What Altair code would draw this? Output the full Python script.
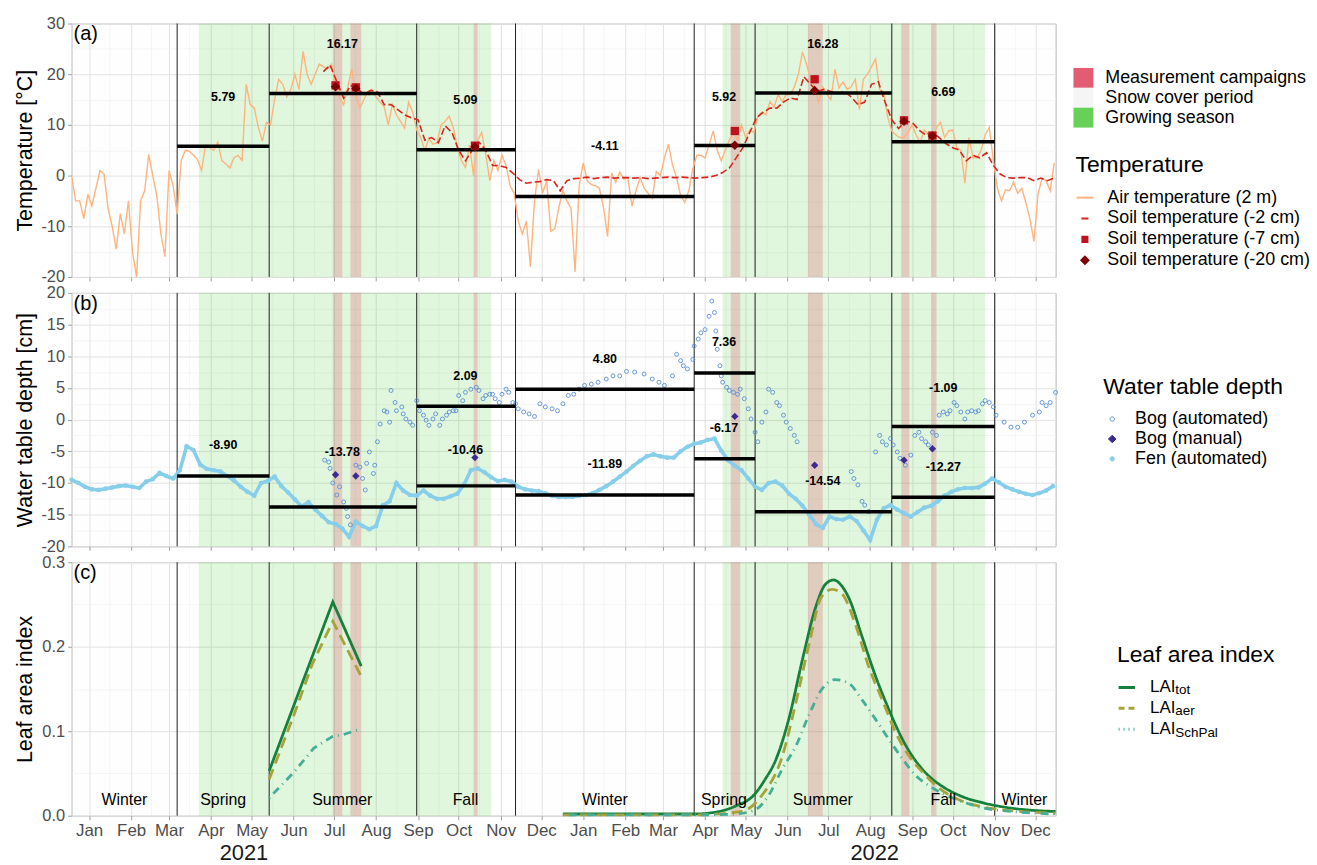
import datetime as dt
import altair as alt
import pandas as pd

FONT = "Liberation Sans"
T0 = dt.date(2021, 1, 1)

# ---------------------------------------------------------------- periods
x_start, x_end = "2020-12-19", "2022-12-16"
season_edges = ["2020-12-19", "2021-03-07", "2021-05-14", "2021-08-31", "2021-11-12",
                "2022-03-24", "2022-05-08", "2022-08-17", "2022-11-01", "2022-12-16"]
season_names = ["Winter", "Spring", "Summer", "Fall", "Winter",
                "Spring", "Summer", "Fall", "Winter"]
growing_start = ["2021-03-23", "2022-04-14"]
growing_end = ["2021-10-25", "2022-10-25"]
campaign_start = ["2021-06-30", "2021-07-13", "2021-10-12", "2022-04-20",
                  "2022-06-16", "2022-08-24", "2022-09-15"]
campaign_end = ["2021-07-07", "2021-07-21", "2021-10-15", "2022-04-27",
                "2022-06-27", "2022-08-30", "2022-09-19"]
snow_start = ["2020-12-19", "2021-11-12", "2022-11-01"]
snow_end = ["2021-03-07", "2022-03-24", "2022-12-16"]
campaign_days = ["2021-07-02", "2021-07-17", "2021-10-13", "2022-04-23",
                 "2022-06-21", "2022-08-26", "2022-09-16"]

# ---------------------------------------------------------------- temperature
air_start, air_step = "2020-12-19", 3
air_temp = [
    0, -5, -5, -8.5, -3.7, -6, -2.5, 1, 0.3, -6.5,
    -10, -14.5, -7.5, -11.5, -5, -15, -20, -5, -3, 4.2,
    0, -4, -11.5, -16, 1, -2, -7.6, 3, 5, 4.8,
    4, 3.2, 1, 6, 5.5, 5, 6.6, 3, 2.3, 1.5,
    3.5, 4, 3, 18, 14, 13.3, 9.5, 6.8, 10.5, 10,
    15, 19, 18, 15.5, 17, 20, 17, 24.5, 20, 18,
    20, 22, 21.5, 21, 22, 18, 15.3, 14, 17.5, 21,
    16, 13.3, 15, 16.6, 17, 15.5, 14.5, 13.5, 10, 14,
    12, 10.7,
    9.4, 14.5, 12.5, 9, 7.5, 5, 7.3, 6.2, 6.5, 10,
    10.7, 11.7, 9.5, 5.5, 3, 1.6, 6, 0, 7, 8.5,
    4.2, -1, 3, 1, 4, 2, -2, -3.5, -9, -11.5,
    -9, -18, -5, 1.2, -3.5, -1, -11, -10.5, -6.3, -3,
    -5, -6.5, -19, -2, 2.5, -1, -1.8, -2, -2.5, -6.3,
    -12, 0.5, -1.3, 0.7, -0.7, -0.5, -6, -3, -0.4, -2.5,
    -3.5, -4.5, 0.8, 0, 3.5, 6.2, 2, -0.4, -4, -5.3,
    -3, 1.4, 4, 4, 3.5, 6, 8.8, 5, 2.9, 5,
    7, 8.5, 7, 10, 7.5, 9, 8.5, 11.7, 12.5, 12,
    14.6, 13.5, 16, 14.6, 16, 16, 17.5, 20, 24.4, 22,
    19, 17.5, 14.5, 17.5, 16, 15, 21, 17.3, 18.5, 17,
    17.5, 19, 13, 19, 20, 21.5, 23, 17, 16.5, 11.5,
    8.8, 8, 7.5, 7.5, 8.5, 10, 8, 6.5, 9, 8.2,
    7, 9.5, 10.5, 7.5, 8.8, 9, 5.5, 5, -1.5, 7.5,
    3.5, 3.5, 5, 8, 9.5, 3, -2.5, -5, -2.8, -3,
    -1.3, -3.5, -2.5, -5.3, -8.5, -13, -3.7, -0.5, -1, -3,
    2.5,
]
soil2_start, soil2_step = "2021-06-23", 5
soil2_temp = [
    20.5, 21.8, 18.5, 15.3, 17.8, 17.2, 16, 16.8, 16.5, 14, 14, 13,
    12, 11.4, 11, 7, 7.5, 6.5, 9.8, 8.5, 5, 2.9, 5, 6.6, 5, 2, 2, 1.6,
    0.5, -0.8, -1.5, -1.3, -1.2, -0.8, -1, -3, -1, -0.6,
    -0.5, -0.3, -0.6, -0.4, -0.3, -0.5, -0.4, -0.4, -0.5, -0.4, -0.6, -0.5,
    -0.4, -0.3, -0.4, -0.3, -0.4, -0.5, -0.4, -0.3, 0, 0.6,
    1.5, 3.5, 5.5, 8.5, 11.4, 12.5, 13.3, 13.3, 14.5, 15.3,
    15, 19.5, 18, 16.6, 17, 16.6, 16.2, 16.6, 15.5, 14,
    14.5, 18, 18.5, 14.5, 11, 9.3, 10.7, 10.5, 9, 8,
    8.5, 7.5, 6.3, 5.5, 5, 2.9, 4, 3.5, 4.5, 2,
    0.3, -0.4, -0.5, -0.4, -0.4, -1, -0.5, -1, -0.5,
]
soil7_temp = [17.8, 17.4, 5.9, 8.8, 19.0, 10.9, 7.9]
soil20_temp = [17.5, 17.2, 5.7, 6.0, 16.8, 10.7, 7.8]
temp_mean = [5.79, 16.17, 5.09, -4.11, 5.92, 16.28, 6.69]
temp_label_y = [15.5, 25.9, 14.9, 5.8, 15.5, 26.0, 16.5]

# ---------------------------------------------------------------- water table
fen_start, fen_step = "2020-12-19", 5
fen_wtd = [
    -9.5, -10, -10.6, -11, -11.1, -10.9, -10.7, -10.5, -10.4, -10.6,
    -10.8, -9.8, -9.4, -8.4, -8.9, -9.3, -8, -4.2, -4.8, -7.1,
    -7.8, -8, -8.2, -8.9, -9.6, -10.6, -11.4, -12, -10, -9.7,
    -9, -10.5, -11.5, -12.6, -13.7, -13, -14.2, -15.2, -16.2, -16.5,
    -17.2, -18.5, -16.1, -16.8, -17.3, -16.8, -13.5, -12.9, -10, -11.2,
    -11.9, -12, -11.2, -12, -12.5, -12.5, -12.1, -11.7, -10.2, -8,
    -7.7, -8.3, -9.1, -9.7, -9.5, -9.8,
    -10.6, -11, -11.2, -11.3, -11.6, -12, -12.2, -12.2, -12.2, -12,
    -11.9, -11.6, -11.1, -10.5, -9.8, -9, -8.2, -7.3, -6.5, -5.8,
    -5.5, -5.8, -6, -6, -5, -4.3, -3.8, -3.6, -3.2, -3,
    -4.9, -6.4, -7.3, -8, -9.3, -10.6, -11.1, -10, -9.8, -10.4,
    -11.7, -12.5, -13.6, -15, -16.5, -17.1, -15.3, -15.7, -15.8, -15.3,
    -16, -17.5, -19, -15.8, -14, -13.5, -14.2, -14.8, -15.3, -14.6,
    -13.9, -13.6, -12.9, -12, -11.4, -11, -10.8, -10.8, -10.7, -10.1,
    -9.3, -9.9, -10.6, -11, -11.4, -11.7, -11.9, -11.6, -11.2, -10.5,
]
# bog logger: days since 2021-01-01 and water table depth
bog_auto_day = [
    174, 177, 178, 180, 183, 185, 188, 190, 191, 193, 197, 200, 202, 204, 205, 207, 210, 211, 213, 215,
    218, 220, 222, 223, 226, 227, 231, 232, 234, 237, 239, 242, 244, 247, 249, 251, 254, 256, 259, 261,
    264, 266, 269, 271, 273, 276, 278, 282, 286, 288, 291, 293, 296, 298, 300, 303, 305, 308, 310, 313,
    315,
    317, 321, 325, 329, 333, 337, 342, 346, 350, 354, 358, 362, 366, 371, 376, 382, 387, 392, 397, 403,
    410, 416, 421, 425, 431, 434, 437, 439, 442, 446, 447, 450, 452, 455, 458, 460, 462, 463, 464, 466,
    467, 468, 471, 473, 476, 479, 481, 484, 487, 489, 492, 494, 497, 500, 502, 505, 508, 510, 513, 515,
    518, 521, 523,
    563, 565, 568, 571, 573, 576, 581, 584, 586, 589, 592, 594, 597, 599, 603, 607, 610, 613, 615, 618,
    620, 623, 626, 628, 631, 634, 636, 639, 641, 644, 647, 649, 652, 655, 657, 660, 662, 665, 668, 670,
    676, 681, 686, 691, 697, 702, 704, 707, 710, 714,
]
bog_auto_wtd = [
    -6.4, -6.7, -7.7, -10, -11.9, -10.6, -13, -14, -15.3, -16.6, -7.2, -7.5, -9.3, -11.1, -6.9, -5.1, -8.5, -7.2, -3.5, -0.7,
    1.4, 1.2, -0.4, 4.6, 2.7, 1.4, 2, 0.9, 0.1, -0.4, -0.9, 3, 1.4, 0.7, -0.1, -0.9, 0.1, 0.9, -0.9, 0.1,
    0.7, 1.2, 1.4, 1.4, 3.8, 3, 4.3, 4.8, 5.1, 4.6, 3.3, 3.8, 4, 4, 3.3, 2.7, 4, 4.8, 4.3, 2.7,
    2.5,
    1.7, 1.2, 0.9, 0.5, 2.5, 2, 1.7, 1.4, 2.5, 3.8, 4, 4.8, 5.4, 5.6, 5.9, 6.4, 6.9, 6.9, 7.6, 7.5,
    7.2, 6.4, 5.9, 5.4, 6.9, 10.3, 9.3, 8.5, 8, 9.5, 11.6, 12.7, 13.7, 14.2, 16.3, 18.7, 16.9, 14, 11.1, 8.5,
    6.9, 5.9, 5.1, 4.6, 4.3, 4, 4.8, 3.3, 1.7, 0.1, -2, -3.5, -0.4, 1.2, 4.8, 4.3, 2.7, 2.2, 0.7, -0.4,
    -1.4, -2.5, -3.5,
    -8.2, -9.3, -10.3, -12.9, -13.5, -14.5, -5.1, -2.5, -3.5, -4, -3, -4, -5.1, -6.1, -7.2, -5.6, -2.5, -2, -3, -3.5,
    -4, -2, -2.5, 0.7, 1.2, 0.9, 1.4, 2.7, 2.2, 1.2, 0.1, 1.2, 1.4, 1.2, 1.4, 2.5, 3, 2.7, 2, 0.7,
    -0.4, -1.2, -1.2, -0.4, 0.7, 1.2, 2.7, 2.2, 2.7, 4.3,
]
bog_manual_wtd = [-8.7, -8.9, -6.0, 0.5, -7.2, -6.4, -4.6]
fen_mean = [-8.90, -13.78, -10.46, -11.89, -6.17, -14.54, -12.27]
fen_label_y = [-4.06, -5.05, -4.74, -7.08, -1.28, -9.65, -7.5]
bog_mean = [None, None, 2.09, 4.80, 7.36, None, -1.09]
bog_label_y = [None, None, 6.87, 9.54, 12.26, None, 4.94]

# ---------------------------------------------------------------- leaf area index
lai_tot_2021_date = ["2021-05-14", "2021-06-30", "2021-07-21"]
lai_tot_2021 = [0.053, 0.253, 0.177]
lai_aer_2021_date = ["2021-05-14", "2021-06-01", "2021-06-15", "2021-06-30", "2021-07-21"]
lai_aer_2021 = [0.043, 0.118, 0.18, 0.23, 0.165]
lai_sch_2021_date = ["2021-05-14", "2021-06-01", "2021-06-16", "2021-06-30", "2021-07-08", "2021-07-21"]
lai_sch_2021 = [0.021, 0.051, 0.08, 0.094, 0.096, 0.103]

lai_tot_2022_date = ["2021-12-17", "2022-03-24", "2022-04-08", "2022-04-23", "2022-05-08", "2022-05-15",
                     "2022-05-23", "2022-06-02", "2022-06-12", "2022-06-22", "2022-06-29", "2022-07-05",
                     "2022-07-11", "2022-07-17", "2022-07-26", "2022-08-05", "2022-08-15", "2022-08-25",
                     "2022-09-04", "2022-09-14", "2022-09-24", "2022-10-09", "2022-10-24", "2022-11-13",
                     "2022-12-02", "2022-12-16"]
lai_tot_2022 = [0.002, 0.002, 0.004, 0.011, 0.026, 0.042, 0.065, 0.115, 0.185, 0.248, 0.274, 0.279,
                0.272, 0.255, 0.212, 0.165, 0.125, 0.09, 0.064, 0.046, 0.034, 0.022, 0.015, 0.009,
                0.006, 0.005]
lai_aer_2022_date = ["2021-12-17", "2022-03-24", "2022-04-28", "2022-05-13", "2022-05-28", "2022-06-07",
                     "2022-06-17", "2022-06-26", "2022-07-04", "2022-07-11", "2022-07-21", "2022-07-31",
                     "2022-08-10", "2022-08-20", "2022-08-30", "2022-09-09", "2022-09-19", "2022-10-04",
                     "2022-10-24", "2022-11-13", "2022-12-16"]
lai_aer_2022 = [0.001, 0.001, 0.005, 0.024, 0.07, 0.133, 0.204, 0.259, 0.268, 0.263, 0.227, 0.176,
                0.137, 0.098, 0.07, 0.051, 0.035, 0.02, 0.01, 0.006, 0.003]
lai_sch_2022_date = ["2021-12-17", "2022-03-24", "2022-04-23", "2022-05-08", "2022-05-18", "2022-05-28",
                     "2022-06-07", "2022-06-17", "2022-06-26", "2022-07-06", "2022-07-16", "2022-07-26",
                     "2022-08-05", "2022-08-15", "2022-08-25", "2022-09-04", "2022-09-14", "2022-09-24",
                     "2022-10-09", "2022-10-24", "2022-11-13", "2022-12-16"]
lai_sch_2022 = [0.001, 0.001, 0.002, 0.007, 0.024, 0.055, 0.082, 0.12, 0.149, 0.161, 0.157, 0.137,
                0.114, 0.09, 0.067, 0.047, 0.035, 0.026, 0.016, 0.009, 0.005, 0.002]
season_label_lai = 0.018

# ---------------------------------------------------------------- styling
AIR, SOIL2, SOIL7, SOIL20 = "#FDB47E", "#D7261E", "#C0111F", "#7F0000"
FEN, BOGA, BOGM = "#87CEEB", "#5B8ED4", "#3D2A8E"
TOT, AER, SCH = "#17803A", "#A8A23A", "#45AE98"
GREEN, CAMP, SNOW = "#66D157", "#E35D72", "#F5F5F5"
W, H = 990, 255
TICK_FONT = 16.5


def parse(s):
    return dt.date.fromisoformat(s)


def regular_dates(start, step, n):
    s = parse(start)
    return [(s + dt.timedelta(days=step * i)).isoformat() for i in range(n)]


def offset_dates(days):
    return [(T0 + dt.timedelta(days=d)).isoformat() for d in days]


def midpoint(a, b):
    da, db = parse(a), parse(b)
    return (da + (db - da) / 2).isoformat()


def dtime(s):
    d = parse(s)
    return alt.DateTime(year=d.year, month=d.month, date=d.day, utc=True)


def cond(test, a, b):
    return {"condition": {"test": test, "value": a}, "value": b}


XS = alt.Scale(type="utc", domain=[dtime(x_start), dtime(x_end)])
YA = alt.Scale(domain=[-20, 30], nice=False, zero=False)
YB = alt.Scale(domain=[-20, 20], nice=False, zero=False)
YC = alt.Scale(domain=[0, 0.3], nice=False, zero=False)

MONTH_TEST = "utcdate(datum.value) == 1"
month_major = [alt.DateTime(year=y, month=m, date=1, utc=True) for y in (2021, 2022) for m in range(1, 13)]
month_minor = [alt.DateTime(year=y, month=m, date=16, utc=True)
               for y in (2021, 2022) for m in range(1, 13) if not (y == 2022 and m == 12)]


def x_axis(show_labels):
    return alt.Axis(
        values=month_major + month_minor, labels=show_labels,
        labelExpr=f"{MONTH_TEST} ? utcFormat(datum.value, '%b') : ''",
        tickOpacity=cond(MONTH_TEST, 1, 0),
        gridColor=cond(MONTH_TEST, "#E0E0E0", "#EEEEEE"),
        gridWidth=cond(MONTH_TEST, 1, 0.6),
        title=None, labelFontSize=17, labelColor="#4D4D4D", labelPadding=3,
        labelOverlap=False, labelFlush=False, orient="bottom")


def y_axis(values, test, label_expr, title):
    return alt.Axis(
        values=values, labelExpr=f"{test} ? {label_expr} : ''",
        tickOpacity=cond(test, 1, 0),
        gridColor=cond(test, "#E0E0E0", "#EEEEEE"),
        gridWidth=cond(test, 1, 0.6),
        title=title, titleX=-46, titleY=H / 2, titleBaseline="middle",
        titleFontSize=21.5, titleFontWeight="normal", titleColor="black",
        labelFontSize=TICK_FONT, labelColor="#4D4D4D", labelPadding=3, labelOverlap=False)


XA_TOP = x_axis(False)
XA_BOTTOM = x_axis(True)
YAX_A = y_axis(list(range(-20, 31, 5)), "datum.value % 10 == 0", "toString(datum.value)",
               "Temperature [°C]")
YAX_B = y_axis([v / 2 for v in range(-40, 41, 5)], "datum.value % 5 == 0", "toString(datum.value)",
               "Water table depth [cm]")
YAX_C = y_axis([0, 0.05, 0.1, 0.15, 0.2, 0.25, 0.3],
               "abs(datum.value * 10 - round(datum.value * 10)) < 0.001",
               "format(datum.value, '.1f')", "Leaf area index")


def xe(field, axis):
    return alt.X(f"{field}:T", scale=XS, axis=axis)


def ye(field, scale, axis):
    return alt.Y(f"{field}:Q", scale=scale, axis=axis)


# ---------------------------------------------------------------- shared tables
snow_df = pd.DataFrame({"start": snow_start, "end": snow_end})
grow_df = pd.DataFrame({"start": growing_start, "end": growing_end})
camp_df = pd.DataFrame({"start": campaign_start, "end": campaign_end})
edge_df = pd.DataFrame({"date": season_edges[1:-1]})
inner = range(1, len(season_names) - 1)
season_start = [season_edges[i] for i in inner]
season_end = [season_edges[i + 1] for i in inner]
season_mid = [midpoint(a, b) for a, b in zip(season_start, season_end)]


def background_layers(xa):
    snow = alt.Chart(snow_df).mark_rect(fill=SNOW, opacity=0.15).encode(x=xe("start", xa), x2="end:T")
    grow = alt.Chart(grow_df).mark_rect(fill=GREEN, opacity=0.2).encode(x=xe("start", xa), x2="end:T")
    camp = alt.Chart(camp_df).mark_rect(fill=CAMP, opacity=0.28).encode(x=xe("start", xa), x2="end:T")
    edges = alt.Chart(edge_df).mark_rule(color="#1F1F1F", strokeWidth=1).encode(x=xe("date", xa))
    return [snow, grow, camp, edges]


def tag_layer(txt):
    return alt.Chart(pd.DataFrame({"tag": [txt]})).mark_text(
        align="left", baseline="middle", fontSize=20, font=FONT, color="black"
    ).encode(x=alt.value(2), y=alt.value(11), text="tag:N")


def mean_layers(means, label_y, scale, xa, ya):
    rows = [(s, e, m, mean, ly, f"{mean:.2f}") for s, e, m, mean, ly in
            zip(season_start, season_end, season_mid, means, label_y) if mean is not None]
    df = pd.DataFrame(rows, columns=["start", "end", "mid", "mean", "ly", "txt"])
    rule = alt.Chart(df).mark_rule(color="black", strokeWidth=3.5).encode(
        x=xe("start", xa), x2="end:T", y=ye("mean", scale, ya))
    text = alt.Chart(df).mark_text(fontWeight="bold", fontSize=12.5, font=FONT, color="black").encode(
        x=xe("mid", xa), y=ye("ly", scale, ya), text="txt:N")
    return rule, text


# ---------------------------------------------------------------- panel (a)
air_df = pd.DataFrame({"date": regular_dates(air_start, air_step, len(air_temp)), "t": air_temp})
soil2_df = pd.DataFrame({"date": regular_dates(soil2_start, soil2_step, len(soil2_temp)), "t": soil2_temp})
pts_df = pd.DataFrame({"date": campaign_days, "t7": soil7_temp, "t20": soil20_temp})

air = alt.Chart(air_df).mark_line(color=AIR, strokeWidth=1.4, clip=True).encode(
    x=xe("date", XA_TOP), y=ye("t", YA, YAX_A))
soil2 = alt.Chart(soil2_df).mark_line(color=SOIL2, strokeWidth=1.6, strokeDash=[7, 3], clip=True).encode(
    x=xe("date", XA_TOP), y=ye("t", YA, YAX_A))
t_rule, t_text = mean_layers(temp_mean, temp_label_y, YA, XA_TOP, YAX_A)
soil7 = alt.Chart(pts_df).mark_point(shape="square", filled=True, size=70, color=SOIL7, opacity=1).encode(
    x=xe("date", XA_TOP), y=ye("t7", YA, YAX_A))
soil20 = alt.Chart(pts_df).mark_point(shape="diamond", filled=True, size=90, color=SOIL20, opacity=1).encode(
    x=xe("date", XA_TOP), y=ye("t20", YA, YAX_A))

bg_keys = ["Measurement campaigns", "Snow cover period", "Growing season"]
bg_legend = alt.Chart(pd.DataFrame({"bg": bg_keys})).transform_filter("false").mark_square(
    opacity=1).encode(
    color=alt.Color("bg:N", scale=alt.Scale(domain=bg_keys, range=[CAMP, SNOW, GREEN]),
                    legend=alt.Legend(title=None, orient="none", legendX=1008, legendY=44.7,
                                      symbolType="square", symbolSize=400, symbolStrokeWidth=0,
                                      symbolOpacity=1, labelOffset=12, rowPadding=0)))

temp_keys = ["Air temperature (2 m)", "Soil temperature (-2 cm)",
             "Soil temperature (-7 cm)", "Soil temperature (-20 cm)"]
temp_cols = [AIR, SOIL2, SOIL7, SOIL20]
temp_shapes = ["M-1,0L1,0", "M-0.42,0L0.42,0",
               "M-0.3,-0.3L0.3,-0.3L0.3,0.3L-0.3,0.3Z", "M0,-0.42L0.42,0L0,0.42L-0.42,0Z"]
temp_leg = alt.Legend(title="Temperature", orient="none", legendX=1010, legendY=131.7,
                      symbolSize=289, symbolStrokeWidth=2, labelOffset=13)
temp_legend = alt.Chart(pd.DataFrame({"series": temp_keys})).transform_filter("false").mark_point(
    filled=True, opacity=1).encode(
    fill=alt.Fill("series:N", scale=alt.Scale(domain=temp_keys, range=temp_cols), legend=temp_leg),
    stroke=alt.Stroke("series:N", scale=alt.Scale(domain=temp_keys, range=temp_cols), legend=temp_leg),
    shape=alt.Shape("series:N", scale=alt.Scale(domain=temp_keys, range=temp_shapes), legend=temp_leg))

panel_a = alt.layer(*background_layers(XA_TOP), air, soil2, t_rule, soil7, soil20, t_text,
                    tag_layer("(a)"), bg_legend, temp_legend).properties(width=W, height=H)

# ---------------------------------------------------------------- panel (b)
fen_df = pd.DataFrame({"date": regular_dates(fen_start, fen_step, len(fen_wtd)), "w": fen_wtd})
bog_df = pd.DataFrame({"date": offset_dates(bog_auto_day), "w": bog_auto_wtd})
man_df = pd.DataFrame({"date": campaign_days, "w": bog_manual_wtd})

fen_line = alt.Chart(fen_df).mark_line(color=FEN, strokeWidth=3.6, clip=True).encode(
    x=xe("date", XA_TOP), y=ye("w", YB, YAX_B))
fen_pts = alt.Chart(fen_df).mark_circle(color=FEN, size=22, opacity=1).encode(
    x=xe("date", XA_TOP), y=ye("w", YB, YAX_B))
bog_pts = alt.Chart(bog_df).mark_point(shape="circle", filled=False, size=16, strokeWidth=0.9,
                                       color=BOGA, opacity=1).encode(
    x=xe("date", XA_TOP), y=ye("w", YB, YAX_B))
man_pts = alt.Chart(man_df).mark_point(shape="diamond", filled=True, size=55, color=BOGM,
                                       opacity=1).encode(x=xe("date", XA_TOP), y=ye("w", YB, YAX_B))
f_rule, f_text = mean_layers(fen_mean, fen_label_y, YB, XA_TOP, YAX_B)
b_rule, b_text = mean_layers(bog_mean, bog_label_y, YB, XA_TOP, YAX_B)

wt_keys = ["Bog (automated)", "Bog (manual)", "Fen (automated)"]
circle_path = "M-0.26,0A0.26,0.26 0 1,0 0.26,0A0.26,0.26 0 1,0 -0.26,0Z"
wt_shapes = [circle_path, "M0,-0.45L0.45,0L0,0.45L-0.45,0Z", circle_path]
wt_leg = alt.Legend(title="Water table depth", orient="none", legendX=1038, legendY=84,
                    symbolSize=289, symbolStrokeWidth=1, labelOffset=14)
wt_legend = alt.Chart(pd.DataFrame({"wt": wt_keys})).transform_filter("false").mark_point(
    filled=True, opacity=1).encode(
    fill=alt.Fill("wt:N", scale=alt.Scale(domain=wt_keys, range=["transparent", BOGM, FEN]), legend=wt_leg),
    stroke=alt.Stroke("wt:N", scale=alt.Scale(domain=wt_keys, range=[BOGA, BOGM, FEN]), legend=wt_leg),
    shape=alt.Shape("wt:N", scale=alt.Scale(domain=wt_keys, range=wt_shapes), legend=wt_leg))

panel_b = alt.layer(*background_layers(XA_TOP), fen_line, fen_pts, bog_pts, f_rule, b_rule, man_pts,
                    f_text, b_text, tag_layer("(b)"), wt_legend).properties(width=W, height=H)


# ---------------------------------------------------------------- panel (c)
def lai_frame(parts):
    rows = []
    for seg, (dates, vals) in enumerate(parts):
        rows += [(d, v, seg) for d, v in zip(dates, vals)]
    return pd.DataFrame(rows, columns=["date", "lai", "seg"])


tot_df = lai_frame([(lai_tot_2021_date, lai_tot_2021), (lai_tot_2022_date, lai_tot_2022)])
aer_df = lai_frame([(lai_aer_2021_date, lai_aer_2021), (lai_aer_2022_date, lai_aer_2022)])
sch_df = lai_frame([(lai_sch_2021_date, lai_sch_2021), (lai_sch_2022_date, lai_sch_2022)])


def lai_lines(df, color, dash):
    # 2021 is drawn as straight segments between samples, 2022 as a smooth seasonal curve
    out = []
    for seg, interp in ((0, "linear"), (1, "monotone")):
        out.append(alt.Chart(df).transform_filter(f"datum.seg == {seg}").mark_line(
            color=color, strokeWidth=2.8, strokeDash=dash, interpolate=interp).encode(
            x=xe("date", XA_BOTTOM), y=ye("lai", YC, YAX_C)))
    return out


lai_layers = (lai_lines(tot_df, TOT, [1, 0]) + lai_lines(aer_df, AER, [11, 6])
              + lai_lines(sch_df, SCH, [1, 5, 8, 5]))

lai_keys = ["LAI_tot", "LAI_aer", "LAI_SchPal"]
lai_subs = ["tot", "aer", "SchPal"]
lai_leg = alt.Legend(title="Leaf area index", orient="none", legendX=1051.7, legendY=82,
                     symbolType="stroke", symbolSize=276, symbolStrokeWidth=3,
                     labelExpr="'LAI'", labelFontSize=17, labelOffset=13.4, rowPadding=3)
lai_legend = alt.Chart(pd.DataFrame({"lai_key": lai_keys})).transform_filter("false").mark_line().encode(
    color=alt.Color("lai_key:N", scale=alt.Scale(domain=lai_keys, range=[TOT, AER, SCH]), legend=lai_leg),
    strokeDash=alt.StrokeDash("lai_key:N",
                              scale=alt.Scale(domain=lai_keys, range=[[1, 0], [6, 4], [1, 4]]),
                              legend=lai_leg))
sub_legend = alt.Chart(pd.DataFrame({"lai_sub": lai_subs})).transform_filter("false").mark_point(
    opacity=0).encode(
    shape=alt.Shape("lai_sub:N", scale=alt.Scale(domain=lai_subs),
                    legend=alt.Legend(title=None, orient="none", legendX=1097, legendY=121.75,
                                      symbolSize=0, symbolOpacity=0, labelOffset=0,
                                      labelFontSize=13.5, rowPadding=6.5)))

season_df = pd.DataFrame({
    "mid": [midpoint(a, b) for a, b in zip(season_edges[:-1], season_edges[1:])],
    "name": season_names,
    "ly": [season_label_lai] * len(season_names),
})
year_axis = alt.Axis(values=[dtime("2021-04-25"), dtime("2022-08-04")],
                     labelExpr="utcFormat(datum.value, '%Y')", orient="bottom", ticks=False,
                     grid=False, domain=False, title=None, labelPadding=27, labelFontSize=22,
                     labelColor="#1A1A1A", labelFlush=False, labelOverlap=False)
season_text = alt.Chart(season_df).mark_text(fontSize=16, font=FONT, color="black").encode(
    x=xe("mid", year_axis), y=ye("ly", YC, YAX_C), text="name:N")

panel_c_inner = alt.layer(*background_layers(XA_BOTTOM), *lai_layers,
                          tag_layer("(c)"), lai_legend, sub_legend)
panel_c = alt.layer(panel_c_inner, season_text).resolve_axis(x="independent").properties(width=W, height=H)

# ---------------------------------------------------------------- assemble
chart = alt.vconcat(panel_a, panel_b, panel_c, spacing=16, bounds="flush").resolve_scale(
    x="independent", y="independent", color="independent", fill="independent",
    stroke="independent", shape="independent", strokeDash="independent"
).resolve_legend(
    color="independent", fill="independent", stroke="independent",
    shape="independent", strokeDash="independent"
).properties(
    padding={"left": 14, "top": 12, "right": 5, "bottom": 5}
).configure(
    font=FONT
).configure_view(
    stroke="#B3B3B3", strokeWidth=1
).configure_axis(
    domain=False, tickColor="#9E9E9E", tickSize=4, labelFont=FONT, titleFont=FONT
).configure_legend(
    labelFont=FONT, titleFont=FONT, labelFontSize=18, titleFontSize=23, titleFontWeight="normal",
    labelColor="black", titleColor="black", labelLimit=400, titleLimit=400, padding=0,
    rowPadding=2, titlePadding=11
)

chart.save("out.html", embed_options={"renderer": "svg", "actions": False})
